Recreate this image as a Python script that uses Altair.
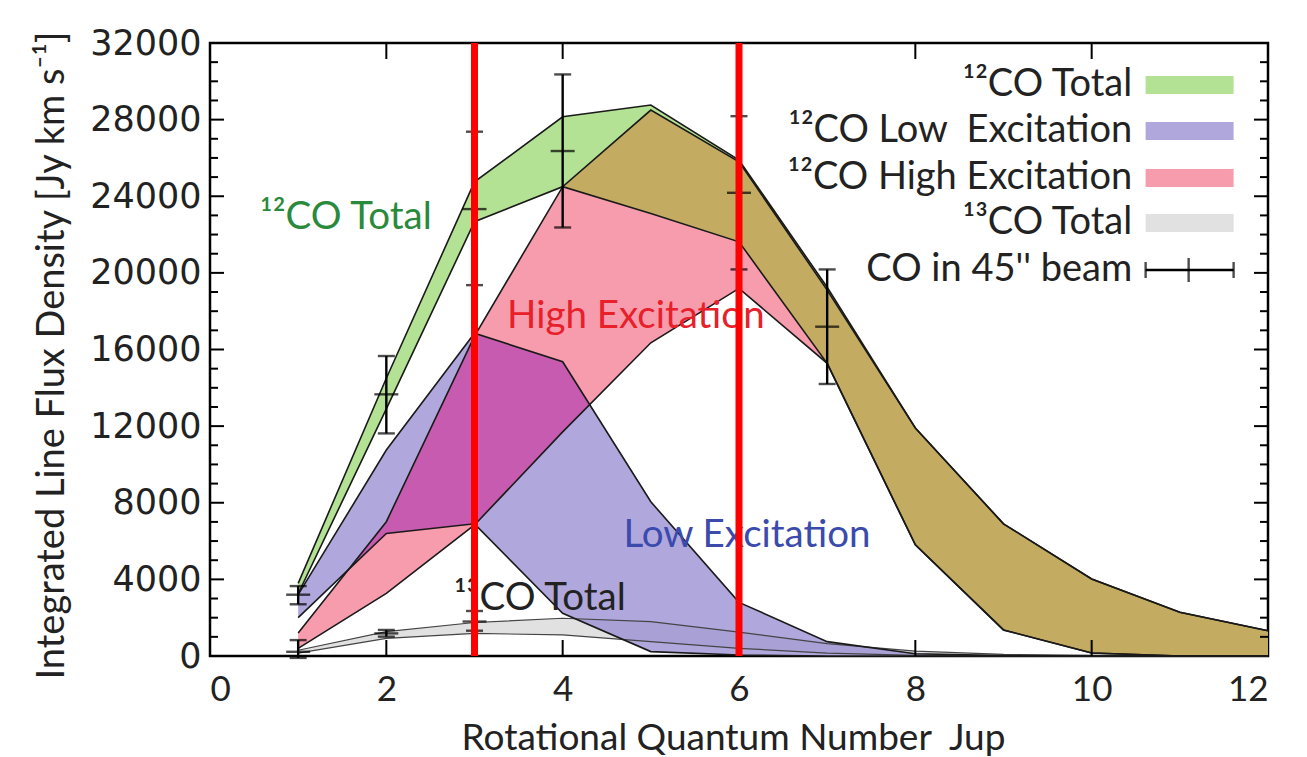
import altair as alt
import pandas as pd

# Upper rotational level of each CO transition
J = list(range(1, 13))

# Flux-density bands [Jy km/s]: lower and upper envelope at each J
co12_total_lo = [3250, 12900, 22670, 24500, 23100, 21620, 15280, 5800, 1360, 160, 0, 0]
co12_total_hi = [3790, 14500, 24750, 28150, 28760, 25890, 19250, 11900, 6900, 4020, 2280, 1320]
low_exc_lo = [2000, 6400, 6900, 2230, 230, 50, 0, 0, 0, 0, 0, 0]
low_exc_hi = [3200, 10750, 16850, 15360, 8050, 2800, 750, 120, 20, 0, 0, 0]
high_exc_lo = [400, 3270, 6840, 11700, 16350, 19190, 15280, 5800, 1360, 160, 0, 0]
high_exc_hi = [1200, 7010, 16700, 24500, 28500, 25800, 19100, 11900, 6900, 4020, 2280, 1320]
co13_lo = [150, 920, 1180, 1100, 750, 400, 150, 30, 0, 0, 0, 0]
co13_hi = [300, 1270, 1750, 1970, 1790, 1250, 650, 250, 80, 20, 0, 0]

# CO measured in a 45" beam (value with lower / upper error)
beam_J = [1, 2, 3, 4, 6, 7]
beam_val = [3200, 13660, 23330, 26360, 24180, 17190]
beam_lo = [2700, 11620, 19360, 22370, 20180, 14200]
beam_hi = [3650, 15660, 27370, 30360, 28180, 20180]

# 13CO measured points
co13_pt_J = [1, 2, 3]
co13_pt_val = [220, 1180, 1800]
co13_pt_lo = [-100, 1010, 1320]
co13_pt_hi = [830, 1360, 2350]

# Transitions separating the excitation regimes
split_J = [3, 6]

GREEN = "#b3e294"
PURPLE = "#b0a8dc"
PINK = "#f79cac"
GRAY = "#e1e1e1"
OLIVE = "#c4ab62"
MAGENTA = "#c65bb0"
PURPLE_GRAY = "#a9a1d6"
INK = "#222222"

W, H = 1058, 613
x_scale = alt.Scale(domain=[0, 12], nice=False, zero=False)
y_scale = alt.Scale(domain=[0, 32000], nice=False)

# One shared axis definition for every layer; ticks are drawn inward separately
x_axis = alt.Axis(
    values=list(range(0, 13, 2)), ticks=False, domain=False, grid=False,
    labelFont="Lato", labelFontSize=35, labelColor=INK, labelPadding=16,
    title="Rotational Quantum Number\u00a0 Jup", titleFont="Lato", titleFontSize=37,
    titleFontWeight="normal", titleColor=INK, titleX=523, titleY=82,
    titleBaseline="middle", titleAlign="center")
y_axis = alt.Axis(
    values=list(range(0, 32001, 4000)), format="d", ticks=False, domain=False, grid=False,
    labelFont="DejaVu Sans", labelFontSize=35, labelColor=INK, labelPadding=9,
    title="Integrated Line Flux Density [Jy km s\u207b\u00b9]", titleFont="Lato",
    titleFontSize=38, titleFontWeight="normal", titleColor=INK,
    titleAngle=-90, titleX=-158, titleY=312, titleBaseline="middle", titleAlign="center")
XN = dict(scale=x_scale, axis=x_axis)
YN = dict(scale=y_scale, axis=y_axis)


def band(lo, hi):
    return pd.DataFrame({"J": J, "lo": lo, "hi": hi})


def overlap(la, ua, lb, ub):
    """Region shared by two linearly interpolated bands, with exact crossing points."""
    rows = []

    def at(arr, i, t):
        return arr[i] + (arr[i + 1] - arr[i]) * t

    for i in range(len(J) - 1):
        ts = {0.0, 1.0}
        for a, b in ((la, lb), (ua, ub)):
            d0, d1 = a[i] - b[i], a[i + 1] - b[i + 1]
            if d0 * d1 < 0:
                ts.add(d0 / (d0 - d1))
        ts = sorted(ts)

        def gap(t):
            return min(at(ua, i, t), at(ub, i, t)) - max(at(la, i, t), at(lb, i, t))

        extra = []
        for t0, t1 in zip(ts, ts[1:]):
            g0, g1 = gap(t0), gap(t1)
            if g0 * g1 < 0:
                extra.append(t0 + (t1 - t0) * g0 / (g0 - g1))
        for t in sorted(set(ts) | set(extra)):
            lo = max(at(la, i, t), at(lb, i, t))
            hi = min(at(ua, i, t), at(ub, i, t))
            if hi >= lo - 1e-6:
                rows.append((J[i] + t, lo, max(hi, lo)))
    return pd.DataFrame(rows, columns=["J", "lo", "hi"]).drop_duplicates("J")


def fill(df, color):
    return alt.Chart(df).mark_area(color=color, opacity=1, interpolate="linear").encode(
        x=alt.X("J:Q", **XN), y=alt.Y("lo:Q", **YN), y2="hi:Q"
    )


def edges(df, color="#1a1a1a", width=1.6):
    long = pd.concat([
        df[["J", "lo"]].rename(columns={"lo": "v"}).assign(side="lo"),
        df[["J", "hi"]].rename(columns={"hi": "v"}).assign(side="hi"),
    ])
    return alt.Chart(long).mark_line(color=color, strokeWidth=width).encode(
        x=alt.X("J:Q", **XN), y=alt.Y("v:Q", **YN), detail="side:N"
    )


total = band(co12_total_lo, co12_total_hi)
low = band(low_exc_lo, low_exc_hi)
high = band(high_exc_lo, high_exc_hi)
co13 = band(co13_lo, co13_hi)

fills = [
    fill(total, GREEN),
    fill(co13, GRAY),
    fill(low, PURPLE),
    fill(high, PINK),
    fill(overlap(co12_total_lo, co12_total_hi, high_exc_lo, high_exc_hi), OLIVE),
    fill(overlap(low_exc_lo, low_exc_hi, high_exc_lo, high_exc_hi), MAGENTA),
    fill(overlap(co13_lo, co13_hi, low_exc_lo, low_exc_hi), PURPLE_GRAY),
]
outlines = [
    edges(co13, "#444444", 1.2),
    edges(total), edges(low), edges(high),
]

y_minor = pd.DataFrame({"v": [v for v in range(1000, 32000, 1000) if v % 4000]})
y_major = pd.DataFrame({"v": list(range(4000, 32000, 4000))})
x_major = pd.DataFrame({"J": list(range(2, 12, 2))})


def yticks(df, x0, x1):
    return alt.Chart(df).mark_rule(color="black", strokeWidth=2).encode(
        y=alt.Y("v:Q", **YN), x=alt.value(x0), x2=alt.value(x1))


def xticks(df, y0, y1):
    return alt.Chart(df).mark_rule(color="black", strokeWidth=2).encode(
        x=alt.X("J:Q", **XN), y=alt.value(y0), y2=alt.value(y1))


ticks = [
    yticks(y_minor, 0, 8), yticks(y_major, 0, 14),
    yticks(y_minor, W, W - 8), yticks(y_major, W, W - 14),
    xticks(x_major, H, H - 16), xticks(x_major, 0, 16),
]


def error_bars(xs, vals, los, his, width=2.4):
    df = pd.DataFrame({"J": xs, "v": vals, "lo": los, "hi": his})
    stem = alt.Chart(df).mark_rule(color="black", strokeWidth=width).encode(
        x=alt.X("J:Q", **XN), y=alt.Y("lo:Q", **YN), y2="hi:Q")
    caps = [
        alt.Chart(df).mark_tick(orient="horizontal", color="black", size=17, thickness=width).encode(
            x=alt.X("J:Q", **XN), y=alt.Y(f"{c}:Q", **YN))
        for c in ("lo", "hi")
    ]
    mid = alt.Chart(df).mark_tick(orient="horizontal", color="black", size=24, thickness=width).encode(
        x=alt.X("J:Q", **XN), y=alt.Y("v:Q", **YN))
    return [stem, *caps, mid]


bars = error_bars(beam_J, beam_val, beam_lo, beam_hi) + \
    error_bars(co13_pt_J, co13_pt_val, co13_pt_lo, co13_pt_hi)

split = alt.Chart(pd.DataFrame({"J": split_J})).mark_rule(color="#ff0000", strokeWidth=7).encode(
    x=alt.X("J:Q", **XN))

# In-plot annotations
notes = pd.DataFrame({
    "J": [1.54, 4.83, 6.09, 3.74],
    "v": [22900, 17750, 6320, 3030],
    "label": ["\u00b9\u00b2CO Total", "High Excitation", "Low Excitation", "\u00b9\u00b3CO Total"],
    "color": ["#2a8a3c", "#e8202a", "#3a4aad", INK],
})
note_text = alt.Chart(notes).mark_text(font="Lato", fontSize=38.5, baseline="middle", align="center").encode(
    x=alt.X("J:Q", **XN), y=alt.Y("v:Q", **YN), text="label:N",
    color=alt.Color("color:N", scale=None))

# Legend (labels on the left, swatches on the right)
leg_labels = ["\u00b9\u00b2CO Total", "\u00b9\u00b2CO Low\u00a0 Excitation", "\u00b9\u00b2CO High Excitation",
              "\u00b9\u00b3CO Total", "CO in 45'' beam"]
leg_v = [29810, 27410, 24950, 22600, 20150]
leg_colors = [GREEN, PURPLE, PINK, GRAY]
LX0, LX1, LXT, LXM = 10.612, 11.61, 10.46, 11.10

leg_text = alt.Chart(pd.DataFrame({"label": leg_labels, "v": leg_v, "J": LXT})).mark_text(
    font="Lato", fontSize=38, align="right", baseline="middle", color=INK).encode(
    x=alt.X("J:Q", **XN), y=alt.Y("v:Q", **YN), text="label:N")
leg_sw = alt.Chart(pd.DataFrame({"v": leg_v[:4], "c": leg_colors, "J0": LX0, "J1": LX1})).mark_rule(
    strokeWidth=18).encode(
    x=alt.X("J0:Q", **XN), x2="J1:Q", y=alt.Y("v:Q", **YN), color=alt.Color("c:N", scale=None))
leg_err_df = pd.DataFrame({"v": [leg_v[4]], "J0": LX0, "J1": LX1, "Jm": LXM})
leg_err = [
    alt.Chart(leg_err_df).mark_rule(color="black", strokeWidth=2.4).encode(
        x=alt.X("J0:Q", **XN), x2="J1:Q", y=alt.Y("v:Q", **YN)),
    alt.Chart(leg_err_df).mark_tick(orient="vertical", color="black", size=16, thickness=2.4).encode(
        x=alt.X("J0:Q", **XN), y=alt.Y("v:Q", **YN)),
    alt.Chart(leg_err_df).mark_tick(orient="vertical", color="black", size=16, thickness=2.4).encode(
        x=alt.X("J1:Q", **XN), y=alt.Y("v:Q", **YN)),
    alt.Chart(leg_err_df).mark_tick(orient="vertical", color="black", size=24, thickness=2.4).encode(
        x=alt.X("Jm:Q", **XN), y=alt.Y("v:Q", **YN)),
]

chart = alt.layer(
    *fills, *outlines, *ticks, *bars, note_text, leg_text, leg_sw, *leg_err, split
).properties(
    width=W, height=H, autosize="none",
    padding={"left": 210, "top": 43, "right": 39, "bottom": 101},
    background="white",
).configure_view(
    stroke="black", strokeWidth=2.5
)

chart.save("out.html", embed_options={"renderer": "svg", "actions": False})
